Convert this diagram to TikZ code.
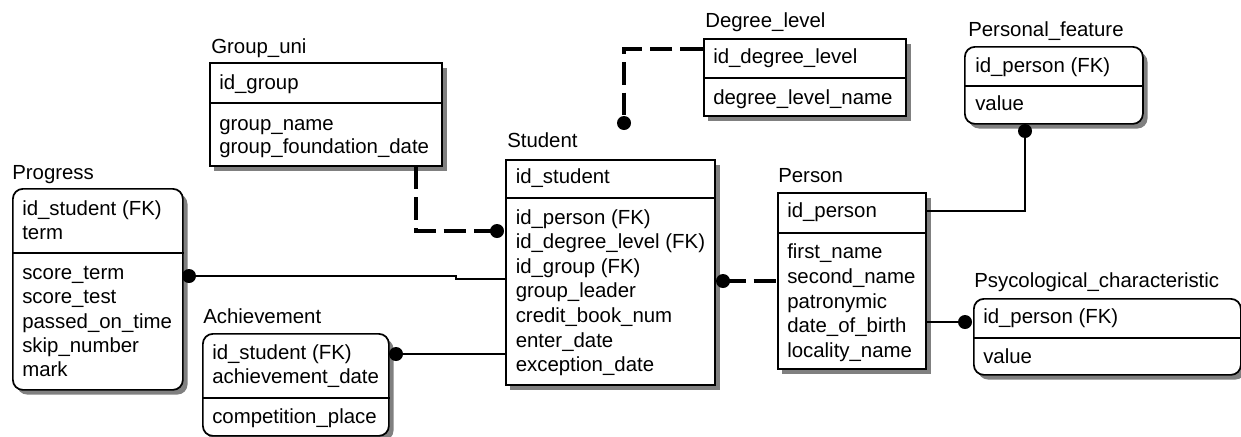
\documentclass[tikz,border=0pt]{standalone}
\usepackage{fontspec}
\setmainfont{Liberation Sans}
\usetikzlibrary{calc}
\newcommand\mkent[7]{%
  \fill[shadowfill, rounded corners=#7] ({#3+5},{#4+6}) rectangle ({#5+5.5},{#6+5.5});
  \node[#1, rounded corners=#7, minimum width={(#5-#3)*0.75pt}, minimum height={(#6-#4)*0.75pt}] (#2) at (#3,#4) {};}
\newcommand\mkdiv[2]{\draw[divline] ($(#1.north west)+(0,#2)$) -- ($(#1.north east)+(0,#2)$);}
\newcommand\mkrows[5]{\foreach \txt [count=\i] in {#5} {\node[rowtext] (#1-\i) at (#2,{#3+#4*(\i-1)}) {\txt};}}
\begin{document}
\begin{tikzpicture}[x=0.75pt,y=-0.75pt,
  every node/.style={font=\fontsize{15.3}{18}\selectfont, inner sep=0pt},
  rowtext/.style={anchor=base west},
  titletext/.style={anchor=base west},
  shadowfill/.style={fill=black!50},
  ent/.style={draw=black, line width=1.3pt, fill=white, anchor=north west, rectangle},
  divline/.style={line width=1.2pt},
  rel/.style={line width=1.2pt},
  idrel/.style={line width=2.3pt, dash pattern=on 17pt off 6pt},
  dot/.style={circle, fill=black, minimum size=10.5pt, inner sep=0pt}]
\fill[white] (0,0) rectangle (1241,436);
\useasboundingbox (0,0) rectangle (1241,436);

% ---------- Group_uni
\node[titletext] (group-t) at (211,53) {Group\_uni};
\mkent{ent}{group}{209}{62}{441}{165}{0pt}
\mkdiv{group}{41}
\mkrows{group-k}{219}{89}{23}{id\_group}
\mkrows{group-a}{219}{130}{23}{group\_name, group\_foundation\_date}

% ---------- Progress
\node[titletext] (prog-t) at (12,179) {Progress};
\mkent{ent}{prog}{12}{188}{182}{389}{7.5pt}
\mkdiv{prog}{65}
\mkrows{prog-k}{22}{215}{24.3}{id\_student (FK), term}
\mkrows{prog-a}{22}{279.5}{24.3}{score\_term, score\_test, passed\_on\_time, skip\_number, mark}

% ---------- Achievement
\node[titletext] (ach-t) at (203,323) {Achievement};
\mkent{ent}{ach}{202}{333}{388}{435}{7.5pt}
\mkdiv{ach}{65}
\mkrows{ach-k}{212}{359.5}{24}{id\_student (FK), achievement\_date}
\mkrows{ach-a}{212}{423}{24}{competition\_place}

% ---------- Student
\node[titletext] (stud-t) at (507,147) {Student};
\mkent{ent}{student}{505}{159}{714}{384}{0pt}
\mkdiv{student}{39}
\mkrows{stud-k}{515.5}{183.5}{24.6}{id\_student}
\mkrows{stud-a}{515.5}{224}{24.6}{id\_person (FK), id\_degree\_level (FK), id\_group (FK), group\_leader, credit\_book\_num, enter\_date, exception\_date}

% ---------- Degree_level
\node[titletext] (deg-t) at (705,27.5) {Degree\_level};
\mkent{ent}{degree}{703}{38}{905}{115}{0pt}
\mkdiv{degree}{40}
\mkrows{deg-k}{713}{63.5}{24}{id\_degree\_level}
\mkrows{deg-a}{713}{104}{24}{degree\_level\_name}

% ---------- Person
\node[titletext] (pers-t) at (778,182) {Person};
\mkent{ent}{person}{777}{192}{925}{368}{0pt}
\mkdiv{person}{41}
\mkrows{pers-k}{787}{217.5}{24.75}{id\_person}
\mkrows{pers-a}{787}{258.5}{24.75}{first\_name, second\_name, patronymic, date\_of\_birth, locality\_name}

% ---------- Personal_feature
\node[titletext] (feat-t) at (968,36) {Personal\_feature};
\mkent{ent}{feat}{964}{46}{1142}{123}{7.5pt}
\mkdiv{feat}{40}
\mkrows{feat-k}{975}{72}{24}{id\_person (FK)}
\mkrows{feat-a}{975}{110.5}{24}{value}

% ---------- Psycological_characteristic
\node[titletext] (psy-t) at (974,287.5) {Psycological\_characteristic};
\mkent{ent}{psy}{973}{298}{1240}{374}{7.5pt}
\mkdiv{psy}{40}
\mkrows{psy-k}{983}{323.5}{24}{id\_person (FK)}
\mkrows{psy-a}{983}{363.5}{24}{value}

% ---------- connectors
\coordinate (gx) at (416,0);
\coordinate (dy) at (0,49);
\coordinate (pj1) at (456,276);
\coordinate (pj2) at (456,279);
\coordinate (py) at (0,279);
\coordinate (fy) at (0,211);

\path (497,231) coordinate (dGpos) (624,123) coordinate (dDpos) (189,276) coordinate (dPpos)
      (396,354) coordinate (dApos) (723,281) coordinate (dSpos) (1025,131) coordinate (dFpos)
      (965,322) coordinate (dCpos);

\draw[idrel] (group.south -| gx) |- (dGpos);
\draw[idrel] (degree.west |- dy) -| (dDpos);
\draw[rel] (dPpos) -- (pj1) -- (pj2) -- (student.west |- py);
\draw[rel] (dApos) -- (dApos -| student.west);
\draw[idrel] (dSpos) -- (dSpos -| person.west);
\draw[rel] (person.east |- fy) -| (dFpos);
\draw[rel] (dCpos -| person.east) -- (dCpos);

\node[dot] (dG) at (dGpos) {};
\node[dot] (dD) at (dDpos) {};
\node[dot] (dP) at (dPpos) {};
\node[dot] (dA) at (dApos) {};
\node[dot] (dS) at (dSpos) {};
\node[dot] (dF) at (dFpos) {};
\node[dot] (dC) at (dCpos) {};
\end{tikzpicture}
\end{document}
